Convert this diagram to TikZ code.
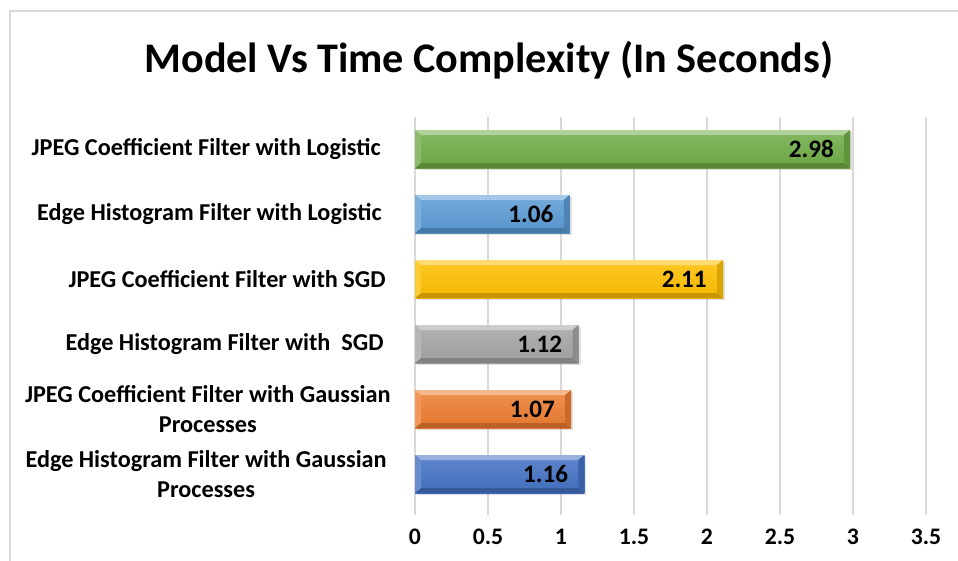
\documentclass[tikz,border=0pt]{standalone}
\usepackage{fontspec}
\setmainfont{Carlito}
\usetikzlibrary{positioning}
\definecolor{accone}{HTML}{4472C4}
\definecolor{acctwo}{HTML}{ED7D31}
\definecolor{accthree}{HTML}{A5A5A5}
\definecolor{accfour}{HTML}{FFC000}
\definecolor{accfive}{HTML}{5B9BD5}
\definecolor{accsix}{HTML}{70AD47}
\tikzset{
  chart/.style={x=0.02cm, y=-0.02cm,
    every node/.style={font=\bfseries\fontsize{13.8}{16}\selectfont, inner sep=0pt}},
  grid line/.style={draw=black!15, line width=0.9pt},
  frame line/.style={draw=black!15, line width=0.8pt},
  cat label/.style={anchor=east, align=center},
  val label/.style={anchor=base east, font=\bfseries\fontsize{14.3}{16}\selectfont},
  tick label/.style={anchor=base, font=\bfseries\fontsize{13.5}{16}\selectfont},
  chart title/.style={anchor=base, font=\bfseries\fontsize{24}{28}\selectfont}
}
% one bevelled bar: row centre, value, colour
\newcommand\modelbar[3]{%
  \pgfmathsetmacro\bx{415+146*#2}
  \fill[black, opacity=.12] (417,#1-17) rectangle (\bx+2,#1+21);
  \shade[top color=#3!85!white, bottom color=#3!95!black] (415,#1-19) rectangle (\bx,#1+19);
  \fill[fill=#3!55!white] (415,#1-19) -- (\bx,#1-19) -- (\bx-6,#1-14) -- (421,#1-14) -- cycle;
  \fill[fill=#3!78!black] (415,#1+19) -- (\bx,#1+19) -- (\bx-6,#1+14) -- (421,#1+14) -- cycle;
  \fill[fill=#3!85!black] (\bx,#1-19) -- (\bx,#1+19) -- (\bx-6,#1+14) -- (\bx-6,#1-14) -- cycle;
  \fill[fill=#3!80!white] (415,#1-19) -- (415,#1+19) -- (421,#1+14) -- (421,#1-14) -- cycle;
}
\begin{document}
\begin{tikzpicture}[chart]
\useasboundingbox (0,0) rectangle (958,561);
\fill[white] (0,0) rectangle (958,561);
\draw[frame line] (10,561) -- (10,11) -- (958,11);

\node[chart title] (title) at (489,72) {Model Vs Time Complexity (In Seconds)};

% grid and ticks
\foreach \t [count=\k from 0] in {0,0.5,1,1.5,2,2.5,3,3.5}{
  \draw[grid line] (415+73*\k,117) -- (415+73*\k,515);
  \node[tick label] (tick\k) at (415+73*\k,544) {\t};
}

% bars
\foreach \i/\v/\c in {1/2.98/accsix, 2/1.06/accfive, 3/2.11/accfour,
                      4/1.12/accthree, 5/1.07/acctwo, 6/1.16/accone}{
  \pgfmathsetmacro\yc{84+65*\i}
  \modelbar{\yc}{\v}{\c}
  \node[val label] (val\i) at (\bx-16,\yc+8) {\v};
}

% categories
\node[cat label] (cat1) at (381,149) {JPEG Coefficient Filter with Logistic};
\node[cat label] (cat2) at (382,214) {Edge Histogram Filter with Logistic};
\node[cat label] (cat3) at (386,279) {JPEG Coefficient Filter with SGD};
\node[cat label] (cat4) at (384,344) {Edge Histogram Filter with\ \ SGD};
\node[cat label] (cat5) at (391,409) {JPEG Coefficient Filter with Gaussian\\[1pt]Processes};
\node[cat label] (cat6) at (387,474) {Edge Histogram Filter with Gaussian\\[1pt]Processes};
\end{tikzpicture}
\end{document}
